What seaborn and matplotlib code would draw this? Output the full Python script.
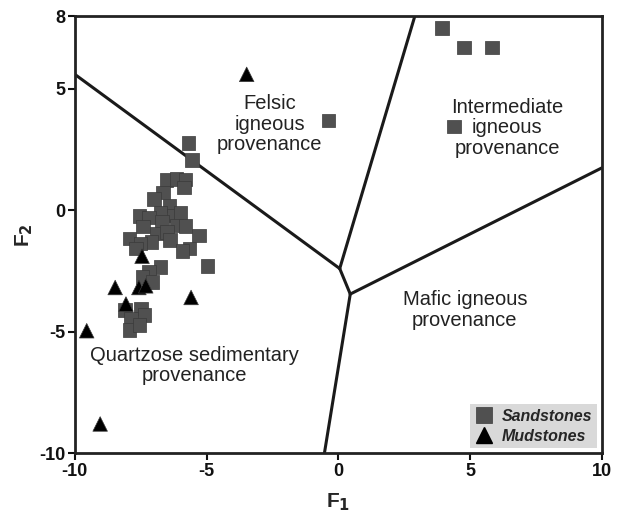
import matplotlib
matplotlib.use("Agg")
import matplotlib.pyplot as plt
import seaborn as sns
import pandas as pd
from matplotlib.lines import Line2D

# ---- data ----
sand_f1 = [-5.69, -5.55, -6.53, -6.14, -5.81, -5.86, -6.65, -7.00, -6.41, -6.75,
           -7.55, -7.18, -6.26, -5.99, -6.69, -6.14, -5.81, -7.42, -6.88, -6.51,
           -7.92, -5.28, -6.39, -7.10, -7.51, -7.67, -5.65, -5.92, -4.97, -6.75,
           -7.18, -7.43, -7.06, -8.10, -7.49, -7.36, -7.86, -7.92, -7.55,
           -0.38, 3.94, 4.77, 5.83, 4.39]
sand_f2 = [2.78, 2.08, 1.25, 1.30, 1.27, 0.94, 0.74, 0.47, 0.20, -0.09,
           -0.23, -0.30, -0.21, -0.11, -0.48, -0.62, -0.65, -0.66, -0.96, -0.89,
           -1.16, -1.03, -1.23, -1.30, -1.37, -1.57, -1.57, -1.68, -2.29, -2.33,
           -2.53, -2.74, -2.95, -4.11, -4.04, -4.31, -4.45, -4.93, -4.73,
           3.70, 7.50, 6.70, 6.70, 3.45]
mud_f1 = [-7.45, -8.47, -7.57, -7.31, -8.06, -5.59, -9.55, -9.04, -3.48]
mud_f2 = [-1.89, -3.18, -3.18, -3.11, -3.86, -3.59, -4.96, -8.80, 5.60]

# field boundaries (F1, F2) segments
bound_f1 = [[-10, 0.05], [2.9, 0.05], [0.05, 0.45], [0.45, 10], [0.45, -0.53]]
bound_f2 = [[5.6, -2.4], [8, -2.4], [-2.4, -3.45], [-3.45, 1.75], [-3.45, -10]]

field_labels = ["Felsic\nigneous\nprovenance",
                "Intermediate\nigneous\nprovenance",
                "Mafic igneous\nprovenance",
                "Quartzose sedimentary\nprovenance"]
field_f1 = [-2.6, 6.4, 4.8, -5.45]
field_f2 = [3.55, 3.4, -4.1, -6.4]

x_ticks = [-10, -5, 0, 5, 10]
y_ticks = [8, 5, 0, -5, -10]

df = pd.DataFrame({
    "F1": sand_f1 + mud_f1,
    "F2": sand_f2 + mud_f2,
    "type": ["Sandstones"] * len(sand_f1) + ["Mudstones"] * len(mud_f1),
})

sns.set_style("ticks")
plt.rcParams["font.family"] = ["Liberation Sans", "DejaVu Sans"]
plt.rcParams["axes.unicode_minus"] = False

fig = plt.figure(figsize=(6.29, 5.19), dpi=100)
ax = fig.add_axes([0.119, 0.127, 0.838, 0.842])

for bx, by in zip(bound_f1, bound_f2):
    sns.lineplot(x=bx, y=by, ax=ax, color="#1a1a1a", lw=2.2, sort=False,
                 estimator=None, zorder=2)

sns.scatterplot(data=df, x="F1", y="F2", hue="type", style="type",
                markers={"Sandstones": "s", "Mudstones": "^"},
                palette={"Sandstones": "#505050", "Mudstones": "#000000"},
                size="type", sizes={"Sandstones": 95, "Mudstones": 110},
                edgecolor="#3a3a3a", linewidth=0.5, ax=ax, legend=False,
                zorder=3)

for lab, fx, fy in zip(field_labels, field_f1, field_f2):
    ax.text(fx, fy, lab, ha="center", va="center", fontsize=14.5,
            color="#222222", linespacing=1.1)

ax.set_xlim(-10, 10)
ax.set_ylim(-10, 8)
ax.set_xticks(x_ticks)
ax.set_yticks(y_ticks)
ax.tick_params(axis="both", direction="out", length=5, width=1.5,
               labelsize=13, colors="#111111", pad=2)
for lbl in ax.get_xticklabels() + ax.get_yticklabels():
    lbl.set_fontweight("bold")
for sp in ax.spines.values():
    sp.set_visible(True)
    sp.set_linewidth(2.0)
    sp.set_color("#222222")

ax.set_xlabel("F$_\\mathbf{1}$", fontsize=15, fontweight="bold", labelpad=8)
ax.set_ylabel("F$_\\mathbf{2}$", fontsize=15, fontweight="bold", labelpad=3)

handles = [Line2D([], [], marker="s", ls="none", color="#505050", markersize=11,
                  markeredgecolor="#3a3a3a", markeredgewidth=0.5),
           Line2D([], [], marker="^", ls="none", color="#000000", markersize=12)]
leg = ax.legend(handles, ["Sandstones", "Mudstones"], loc="lower right",
                frameon=True, fancybox=False, facecolor="#d9d9d9",
                edgecolor="none", framealpha=1, borderaxespad=0.3,
                handletextpad=0.5, handlelength=1.2, borderpad=0.3,
                labelspacing=0.3,
                prop={"weight": "bold", "style": "italic", "size": 11.5})

fig.savefig("out.png", dpi=100)
